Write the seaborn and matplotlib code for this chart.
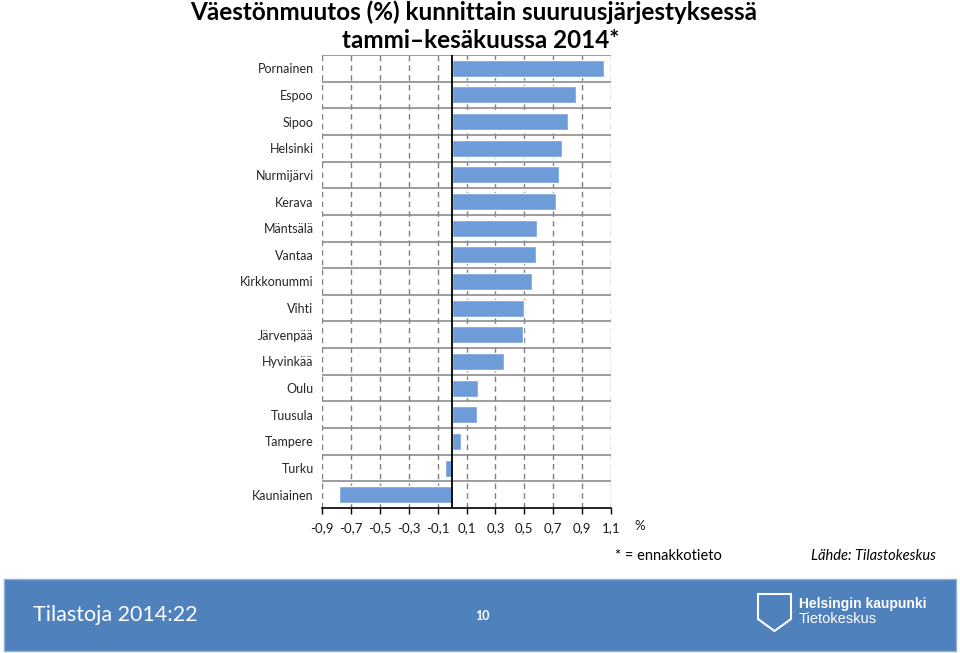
import numpy as np
import pandas as pd
import matplotlib
matplotlib.use("Agg")
import matplotlib.pyplot as plt
import seaborn as sns
from matplotlib.patches import Rectangle, Polygon

# Data
kunnat = ["Pornainen", "Espoo", "Sipoo", "Helsinki", "Nurmijärvi", "Kerava",
          "Mäntsälä", "Vantaa", "Kirkkonummi", "Vihti", "Järvenpää", "Hyvinkää",
          "Oulu", "Tuusula", "Tampere", "Turku", "Kauniainen"]
muutos = [1.05, 0.86, 0.80, 0.76, 0.74, 0.72, 0.59, 0.58, 0.55, 0.50, 0.49,
          0.36, 0.18, 0.17, 0.06, -0.05, -0.78]
xticks = [-0.9, -0.7, -0.5, -0.3, -0.1, 0.1, 0.3, 0.5, 0.7, 0.9, 1.1]
xticklabels = ["-0,9", "-0,7", "-0,5", "-0,3", "-0,1", "0,1", "0,3", "0,5", "0,7", "0,9", "1,1"]

df = pd.DataFrame({"kunta": kunnat, "muutos": muutos})

sns.set_theme(style="white")
plt.rcParams["font.family"] = ["Lato", "DejaVu Sans"]

fig = plt.figure(figsize=(9.6, 6.53), dpi=100)
ax = fig.add_axes([322 / 960, 1 - 508 / 653, 289 / 960, 453 / 653])

sns.barplot(data=df, y="kunta", x="muutos", orient="h", color="#6E9CD9",
            saturation=1, width=0.64, ax=ax, zorder=3)

ax.set_xlim(-0.9, 1.1)
ax.set_ylim(len(kunnat) - 0.5, -0.5)
ax.set_xticks(xticks)
ax.set_xticklabels(xticklabels)
ax.set_yticks(range(len(kunnat)))
ax.set_yticklabels(kunnat)
ax.set_yticks(np.arange(-0.5, len(kunnat) - 1, 1.0), minor=True)
ax.set_xlabel("")
ax.set_ylabel("")

ax.grid(axis="x", which="major", linestyle=(0, (4, 3)), color="#7f7f7f", linewidth=1, zorder=1)
ax.grid(axis="y", which="minor", linestyle="-", color="#8c8c8c", linewidth=1.2, zorder=1)
ax.grid(axis="y", which="major", visible=False)
ax.axvline(0, color="black", linewidth=1.3, zorder=4)

for s in ["left", "right", "top"]:
    ax.spines[s].set_visible(False)
ax.spines["bottom"].set_color("black")
ax.spines["bottom"].set_linewidth(1.2)

ax.tick_params(axis="x", which="major", direction="out", length=4, width=1, color="black",
               bottom=True, pad=6, labelsize=9.5, labelcolor="#1a1a1a")
ax.tick_params(axis="y", which="both", length=0, pad=6, labelsize=9, labelcolor="#262626")

fig.text(634 / 960, 1 - 526 / 653, "%", fontsize=9.5, color="#1a1a1a", ha="left", va="center")

# Title
fig.text(474 / 960, 1 - 12 / 653, "Väestönmuutos (%) kunnittain suuruusjärjestyksessä",
         ha="center", va="center", fontsize=17.5, fontweight="bold", color="black")
fig.text(481 / 960, 1 - 40 / 653, "tammi–kesäkuussa 2014*",
         ha="center", va="center", fontsize=17.5, fontweight="bold", color="black")

# Notes
fig.text(615 / 960, 1 - 556 / 653, "* = ennakkotieto", ha="left", va="center",
         fontsize=10.5, color="black")
fig.text(936 / 960, 1 - 556 / 653, "Lähde: Tilastokeskus", ha="right", va="center",
         fontsize=10.5, style="italic", color="black")

# Footer band
fig.add_artist(Rectangle((4 / 960, 1 - 651 / 653), 952 / 960, 72 / 653,
                         transform=fig.transFigure, facecolor="#4F81BD",
                         edgecolor="#8fb0d8", linewidth=1))
fig.text(33 / 960, 1 - 615 / 653, "Tilastoja 2014:22", ha="left", va="center",
         fontsize=15.5, color="white")
fig.text(482 / 960, 1 - 616 / 653, "10", ha="center", va="center",
         fontsize=9, fontweight="bold", color="white")

# Logo: simple shield + text
shield = [(758, 594), (791, 594), (791, 619), (774.5, 631), (758, 619)]
fig.add_artist(Polygon([(x / 960, 1 - y / 653) for x, y in shield], closed=True,
                       transform=fig.transFigure, facecolor="none",
                       edgecolor="white", linewidth=1.5))
fig.text(799 / 960, 1 - 604 / 653, "Helsingin kaupunki", ha="left", va="center",
         fontsize=10, fontweight="bold", color="white", family="Liberation Sans")
fig.text(799 / 960, 1 - 619 / 653, "Tietokeskus", ha="left", va="center",
         fontsize=10.5, color="white", family="Liberation Sans")

fig.savefig("out.png", dpi=100)
